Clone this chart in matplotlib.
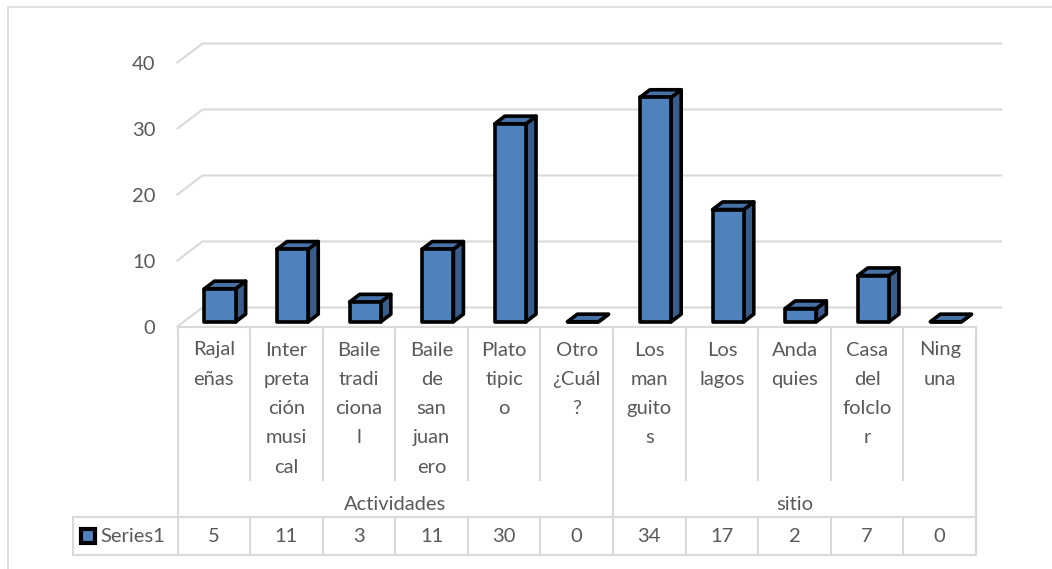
import numpy as np
import matplotlib
matplotlib.use('Agg')
import matplotlib.pyplot as plt
from matplotlib.patches import Polygon
from matplotlib.transforms import IdentityTransform, blended_transform_factory

# Values
labels = ['Rajal\neñas', 'Inter\npreta\nción\nmusi\ncal', 'Baile\ntradi\nciona\nl',
          'Baile\nde\nsan\njuan\nero', 'Plato\ntipic\no', 'Otro\n¿Cuál\n?',
          'Los\nman\nguito\ns', 'Los\nlagos', 'Anda\nquies', 'Casa\ndel\nfolclo\nr',
          'Ning\nuna']
groups = ['Actividades', 'sitio']
group_sizes = [6, 5]
values = [5, 11, 3, 11, 30, 0, 34, 17, 2, 7, 0]
series_name = 'Series1'
yticks = [0, 10, 20, 30, 40]

plt.rcParams['font.family'] = ['Lato', 'DejaVu Sans']
TXT = '#595959'
GRID = '#D9D9D9'
FRONT, TOP, SIDE = '#4F81BD', '#4672A8', '#385D8A'
FS = 14.5

W, H = 1052, 569
fig = plt.figure(figsize=(W / 100, H / 100), dpi=100)
fig.patch.set_facecolor('white')


def py(y):
    # pixel row measured from the top -> display y
    return H - y


ax = fig.add_axes([177.5 / W, py(326.5) / H, (976 - 177.5) / W, (326.5 - 62.5) / H])
n = len(values)
ax.set_xlim(-0.5, n - 0.5)
ax.set_ylim(0, 40)
ax.set_xticks([])
ax.set_yticks(yticks)
ax.tick_params(axis='y', length=0, pad=16, labelsize=FS, labelcolor=TXT)
for s in ax.spines.values():
    s.set_visible(False)
ax.patch.set_visible(False)

ident = IdentityTransform()
bt = blended_transform_factory(ax.transData, ident)
DEPTH = np.array([25.0, 19.0])


def proj(x, v, d):
    return ax.transData.transform((x, v)) + d * DEPTH


# back wall gridlines and the left diagonals
for v in yticks:
    a, b = proj(-0.5, v, 1), proj(n - 0.5, v, 1)
    c = proj(-0.5, v, 0)
    ax.plot([c[0], a[0], b[0]], [c[1], a[1], b[1]], color=GRID, lw=1.5,
            transform=ident, clip_on=False, zorder=1)

# 3D columns
bw, d0, d1 = 0.43, 0.25, 0.65
for i, v in enumerate(values):
    xl, xr = i - bw / 2, i + bw / 2
    front = [proj(xl, 0, d0), proj(xr, 0, d0), proj(xr, v, d0), proj(xl, v, d0)]
    side = [proj(xr, 0, d0), proj(xr, 0, d1), proj(xr, v, d1), proj(xr, v, d0)]
    top = [proj(xl, v, d0), proj(xr, v, d0), proj(xr, v, d1), proj(xl, v, d1)]
    for pts, col in ((side, SIDE), (top, TOP), (front, FRONT)):
        ax.add_patch(Polygon(pts, closed=True, transform=ident, facecolor=col,
                             edgecolor='black', lw=2.6, joinstyle='round',
                             clip_on=False, zorder=3))

# data table
y_top, y_lab, y_grp, y_bot = 326.5, 480, 517, 555
x_left_cell = 73
bounds = np.cumsum([0] + group_sizes) - 0.5
kw = dict(color=GRID, lw=1.5, clip_on=False, zorder=2)
ax.plot([-0.5, n - 0.5], [py(y_top)] * 2, transform=bt, **kw)
rx = ax.transData.transform((n - 0.5, 0))[0]
for y in (y_grp, y_bot):
    ax.plot([x_left_cell, rx], [py(y)] * 2, transform=ident, **kw)
ax.plot([x_left_cell] * 2, [py(y_grp), py(y_bot)], transform=ident, **kw)
for k in range(n + 1):
    x = k - 0.5
    if x in bounds:
        ax.plot([x, x], [py(y_top), py(y_bot)], transform=bt, **kw)
    else:
        ax.plot([x, x], [py(y_top), py(y_lab)], transform=bt, **kw)
        ax.plot([x, x], [py(y_grp), py(y_bot)], transform=bt, **kw)

for i, lab in enumerate(labels):
    for k, line in enumerate(lab.split('\n')):
        ax.text(i, py(350 + 29.3 * k), line, transform=bt, ha='center',
                va='center', fontsize=FS, color=TXT)
for g, name in enumerate(groups):
    ax.text((bounds[g] + bounds[g + 1]) / 2, py(505), name, transform=bt,
            ha='center', va='center', fontsize=FS, color=TXT)
for i, v in enumerate(values):
    ax.text(i, py(536), str(v), transform=bt, ha='center', va='center',
            fontsize=FS, color=TXT)

# legend key in the table
ax.plot([88], [py(535.5)], marker='s', ms=10, mfc=FRONT, mec='black', mew=3,
        transform=ident, clip_on=False)
ax.text(100, py(536), series_name, transform=ident, ha='left', va='center',
        fontsize=FS, color=TXT)

# chart area border
ax.plot([8, 8, W], [0, py(6.5), py(6.5)], color=GRID, lw=1.2,
        transform=ident, clip_on=False)

fig.savefig('out.png', dpi=100)
